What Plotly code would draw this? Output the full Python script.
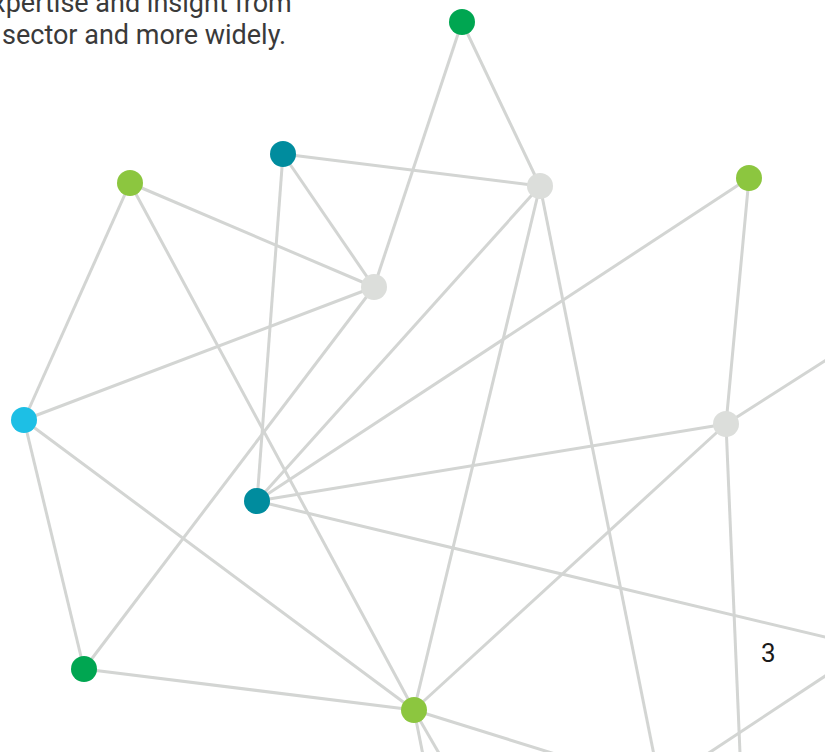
import plotly.graph_objects as go

# Node positions (pixel space of the page), names and colour groups
node_names = ["A", "B", "C", "D", "E", "F", "G", "H", "I", "J", "K"]
node_x = [462, 283, 130, 540, 749, 374, 24, 726, 257, 84, 414]
node_y = [22, 154, 183, 186, 178, 287, 420, 424, 501, 669, 710]
node_group = ["green", "teal", "lime", "grey", "lime", "grey", "cyan", "grey", "teal", "green", "lime"]

# Off-page anchor points that some edges run towards
off_names = ["P1", "P2", "P3", "P4", "P5", "P6", "P7", "P8", "P9"]
off_x = [663, 742, 900, 900, 432, 466, 600, 860, 680]
off_y = [800, 800, 313, 655, 800, 800, 768, 653, 772]

edges = [
    ("A", "F"), ("A", "D"), ("B", "D"), ("B", "F"), ("B", "I"),
    ("C", "F"), ("C", "G"), ("C", "K"), ("F", "G"), ("F", "J"),
    ("D", "I"), ("D", "K"), ("D", "P1"), ("E", "I"), ("E", "H"),
    ("H", "I"), ("H", "K"), ("H", "P3"), ("H", "P2"), ("I", "P4"),
    ("G", "J"), ("G", "K"), ("J", "K"), ("K", "P5"), ("K", "P6"),
    ("K", "P7"), ("P8", "P9"),
]

palette = {
    "green": "#00a651",
    "teal": "#008c9e",
    "lime": "#8cc63f",
    "grey": "#dcdedb",
    "cyan": "#1dbfe5",
}

text_lines = ["expertise and insight from", "sector and more widely."]
page_number = "3"

pos = {n: (x, y) for n, x, y in zip(node_names, node_x, node_y)}
pos.update({n: (x, y) for n, x, y in zip(off_names, off_x, off_y)})

ex, ey = [], []
for a, b in edges:
    ex += [pos[a][0], pos[b][0], None]
    ey += [pos[a][1], pos[b][1], None]

fig = go.Figure()
fig.add_trace(go.Scatter(
    x=ex, y=ey, mode="lines",
    line=dict(color="#d3d5d3", width=3),
    hoverinfo="skip", showlegend=False,
))
fig.add_trace(go.Scatter(
    x=node_x, y=node_y, mode="markers",
    marker=dict(size=26, color=[palette[g] for g in node_group], line=dict(width=0)),
    text=node_names, hoverinfo="text", showlegend=False, cliponaxis=False,
))

fig.add_annotation(x=294, y=21, xref="x", yref="y", text=text_lines[0], showarrow=False,
                   xanchor="right", yanchor="bottom",
                   font=dict(family="Roboto", size=27, color="#3a3a3a"))
fig.add_annotation(x=288, y=53, xref="x", yref="y", text=text_lines[1], showarrow=False,
                   xanchor="right", yanchor="bottom",
                   font=dict(family="Roboto", size=27, color="#3a3a3a"))
fig.add_annotation(x=768, y=653, xref="x", yref="y", text=page_number, showarrow=False,
                   xanchor="center", yanchor="middle",
                   font=dict(family="Roboto", size=26, color="#1a1a1a"))

fig.update_xaxes(range=[0, 825], visible=False, fixedrange=True)
fig.update_yaxes(range=[752, 0], visible=False, fixedrange=True)
fig.update_layout(
    width=825, height=752,
    margin=dict(l=0, r=0, t=0, b=0),
    paper_bgcolor="white", plot_bgcolor="white",
)
fig.write_html("out.html", config={"displayModeBar": False},
               post_script="document.body.style.margin='0';document.body.style.overflow='hidden';")
